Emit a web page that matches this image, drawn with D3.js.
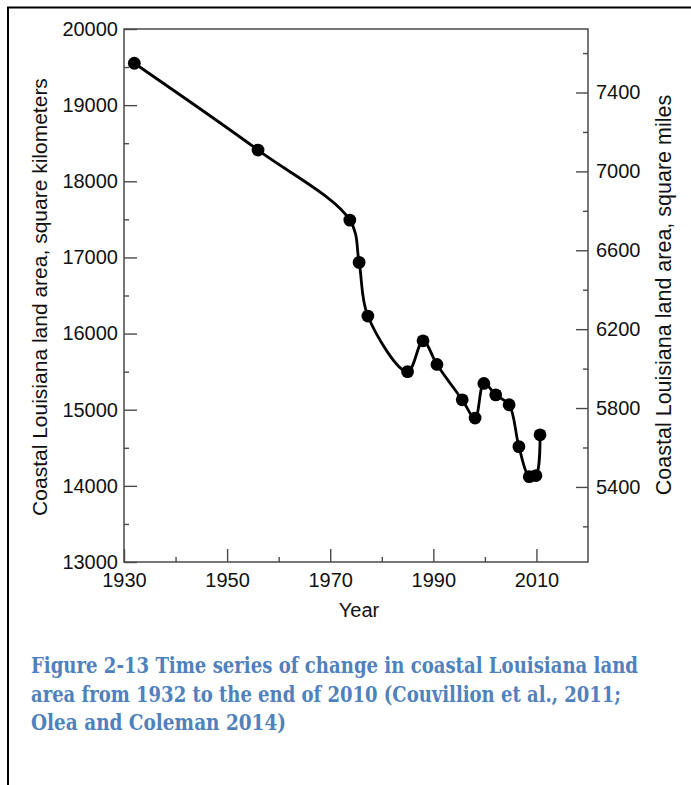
<!DOCTYPE html>
<html>
<head>
<meta charset="utf-8">
<script src="https://cdn.jsdelivr.net/npm/d3@7"></script>
<style>
  body { margin: 0; background: #fff; }
  svg { display: block; }
  .axis text { font-family: "Liberation Sans", Arial, sans-serif; font-size: 20px; fill: #111; }
  .axis line { stroke: #4a4a4a; stroke-width: 1.4px; }
  .axis path { display: none; }
</style>
</head>
<body>
<div id="chart"></div>
<script>
// years and land area (km²)
const years = [1932, 1956, 1973.8, 1975.6, 1977.3, 1985, 1988, 1990.7, 1995.6, 1998.1, 1999.8, 2002.1, 2004.7, 2006.6, 2008.6, 2009.9, 2010.7];
const areaKm2 = [19550, 18410, 17490, 16935, 16230, 15500, 15905, 15595, 15130, 14890, 15345, 15195, 15065, 14515, 14120, 14135, 14670];

const yearTicks = [1930, 1950, 1970, 1990, 2010];
const yearMinor = [1940, 1960, 1980, 2000];
const kmTicks = [13000, 14000, 15000, 16000, 17000, 18000, 19000, 20000];
const kmMinor = [13500, 14500, 15500, 16500, 17500, 18500, 19500];
const mileTicks = [5400, 5800, 6200, 6600, 7000, 7400];
const mileMinor = [5200, 5600, 6000, 6400, 6800, 7200, 7600];
const captionLines = [
  "Figure 2-13 Time series of change in coastal Louisiana land",
  "area from 1932 to the end of 2010 (Couvillion et al., 2011;",
  "Olea and Coleman 2014)"
];

const KM_TO_MI = 0.386102;

function draw() {
  const W = 691, H = 785;
  const margin = {top: 29, left: 124, right: 103, bottom: 223};
  const width = W - margin.left - margin.right,
        height = H - margin.top - margin.bottom;

  const svg = d3.select("#chart").append("svg")
      .attr("width", W).attr("height", H);

  // page border (top + left)
  svg.append("path")
      .attr("d", "M8,785 V7.5 H691")
      .attr("fill", "none").attr("stroke", "#000").attr("stroke-width", 2);

  const g = svg.append("g")
      .attr("transform", `translate(${margin.left}, ${margin.top})`);

  const x = d3.scaleLinear().domain([1930, 2020]).range([0, width]);
  const y = d3.scaleLinear().domain([13000, 20000]).range([height, 0]);
  const y2 = d3.scaleLinear().domain([13000 * KM_TO_MI, 20000 * KM_TO_MI]).range([height, 0]);

  // frame
  g.append("rect")
      .attr("width", width).attr("height", height)
      .attr("fill", "none").attr("stroke", "#4a4a4a").attr("stroke-width", 1.5);

  // bottom axis
  g.append("g").attr("class", "axis")
      .attr("transform", `translate(0, ${height})`)
      .call(d3.axisBottom(x).tickValues(yearTicks).tickSize(-13).tickPadding(11).tickFormat(d3.format("d")));
  g.append("g").attr("class", "axis")
      .attr("transform", `translate(0, ${height})`)
      .call(d3.axisBottom(x).tickValues(yearMinor).tickSize(-5).tickFormat(""));

  // left axis
  g.append("g").attr("class", "axis")
      .call(d3.axisLeft(y).tickValues(kmTicks).tickSize(-13).tickPadding(6).tickFormat(d3.format("d")));
  g.append("g").attr("class", "axis")
      .call(d3.axisLeft(y).tickValues(kmMinor).tickSize(-5).tickFormat(""));

  // right axis (square miles)
  g.append("g").attr("class", "axis")
      .attr("transform", `translate(${width}, 0)`)
      .call(d3.axisRight(y2).tickValues(mileTicks).tickSize(-12).tickPadding(8).tickFormat(d3.format("d")));
  g.append("g").attr("class", "axis")
      .attr("transform", `translate(${width}, 0)`)
      .call(d3.axisRight(y2).tickValues(mileMinor).tickSize(-5).tickFormat(""));

  // axis titles
  const titleFont = "\"Liberation Sans\", Arial, sans-serif";
  svg.append("text")
      .attr("x", 359).attr("y", 617)
      .attr("text-anchor", "middle")
      .style("font-family", titleFont).style("font-size", "20px").attr("fill", "#111")
      .text("Year");
  svg.append("text")
      .attr("transform", "translate(47, 297) rotate(-90)")
      .attr("text-anchor", "middle")
      .style("font-family", titleFont).style("font-size", "21px").attr("fill", "#111")
      .text("Coastal Louisiana land area, square kilometers");
  svg.append("text")
      .attr("transform", "translate(671, 295) rotate(-90)")
      .attr("text-anchor", "middle")
      .style("font-family", titleFont).style("font-size", "21.5px").attr("fill", "#111")
      .text("Coastal Louisiana land area, square miles");

  // the series
  const data = years.map((yr, i) => ({year: yr, km: areaKm2[i]}));

  const line = d3.line()
      .x(d => x(d.year))
      .y(d => y(d.km))
      .curve(d3.curveCatmullRom.alpha(0.5));

  g.append("path")
      .datum(data)
      .attr("d", line)
      .attr("fill", "none").attr("stroke", "#000").attr("stroke-width", 2.8)
      .attr("stroke-linejoin", "round");

  g.selectAll("circle.pt")
    .data(data)
    .enter()
    .append("circle")
      .attr("class", "pt")
      .attr("cx", d => x(d.year))
      .attr("cy", d => y(d.km))
      .attr("r", 6.4)
      .attr("fill", "#000");

  // caption
  const capWidths = [607, 590, 255];
  const cap = svg.append("g")
      .style("font-family", "\"DejaVu Serif\", \"Liberation Serif\", serif")
      .style("font-stretch", "condensed")
      .style("font-weight", "bold").style("font-size", "21.5px")
      .attr("fill", "#4f81bd");
  captionLines.forEach((t, i) => {
    cap.append("text")
        .attr("x", 31).attr("y", 673 + i * 28.7)
        .attr("textLength", capWidths[i])
        .attr("lengthAdjust", "spacingAndGlyphs")
        .text(t);
  });
}

document.addEventListener("DOMContentLoaded", () => draw());
</script>
</body>
</html>
